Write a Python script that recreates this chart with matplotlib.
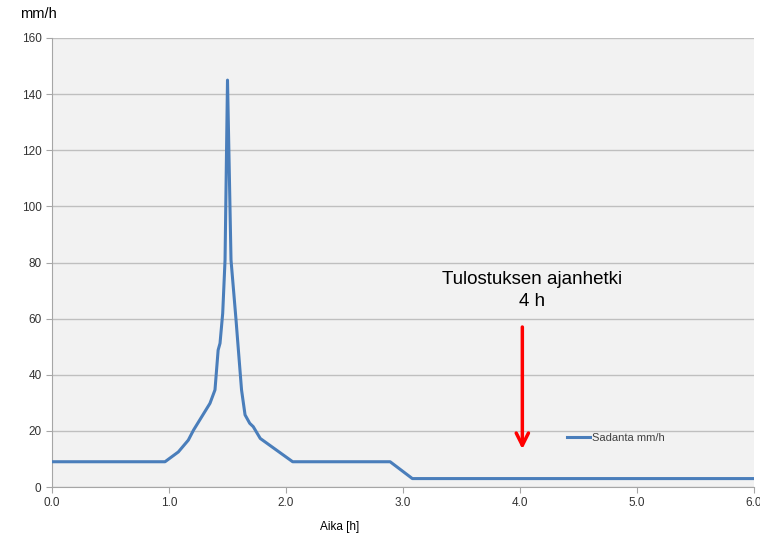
import matplotlib.pyplot as plt
import numpy as np

# rainfall intensity
aika = [0.0, 0.966, 1.08, 1.165, 1.21, 1.35, 1.393, 1.42, 1.436, 1.459, 1.479, 1.50,
        1.53, 1.573, 1.584, 1.62, 1.65, 1.69, 1.72, 1.78, 2.057, 2.89, 3.08, 6.0]
sadanta = [9, 9, 12.5, 16.7, 20.3, 29.8, 34.6, 48.8, 51.2, 61.9, 80.9, 145,
           80.9, 59.5, 53.6, 34.6, 25.7, 22.7, 21.5, 17.3, 9, 9, 3, 3]

xticks = [0, 1, 2, 3, 4, 5, 6]
yticks = [0, 20, 40, 60, 80, 100, 120, 140, 160]

plt.rcParams['font.family'] = ['Liberation Sans', 'DejaVu Sans']

fig = plt.figure(figsize=(7.6, 5.34), dpi=100)
ax = fig.add_axes([52/760, 47/534, 702/760, 449/534])
ax.set_facecolor('#f2f2f2')

ax.plot(aika, sadanta, color='#4a7ebb', lw=2.2, label='Sadanta mm/h', zorder=3)

ax.set_xlim(0, 6)
ax.set_ylim(0, 160)
ax.set_xticks(xticks)
ax.set_xticklabels(['%.1f' % v for v in xticks])
ax.set_yticks(yticks)
ax.grid(axis='y', color='#bfbfbf', lw=1)
ax.set_axisbelow(True)
for s in ['top', 'right']:
    ax.spines[s].set_visible(False)
for s in ['left', 'bottom']:
    ax.spines[s].set_color('#a6a6a6')
ax.tick_params(colors='#a6a6a6', labelcolor='#333333', labelsize=8.5, length=4)

ax.set_xlabel('Aika [h]', fontsize=8.5, labelpad=8, x=0.41)
fig.text(20/760, 1 - 14/534, 'mm/h', fontsize=10.5, va='center', ha='left')

# output moment marker
ax.annotate('', xy=(4.02, 12.5), xytext=(4.02, 58),
            arrowprops=dict(arrowstyle='->', color='#ff0000', lw=2.5,
                            mutation_scale=22))
ax.text(4.1, 70, 'Tulostuksen ajanhetki\n4 h', ha='center', va='center',
        fontsize=13.5, linespacing=1.35)

ax.legend(loc='center left', bbox_to_anchor=(0.72, 0.11), frameon=False,
          fontsize=8, handlelength=2, handletextpad=0.2, labelcolor='#404040')

fig.savefig('out.png', dpi=100)
